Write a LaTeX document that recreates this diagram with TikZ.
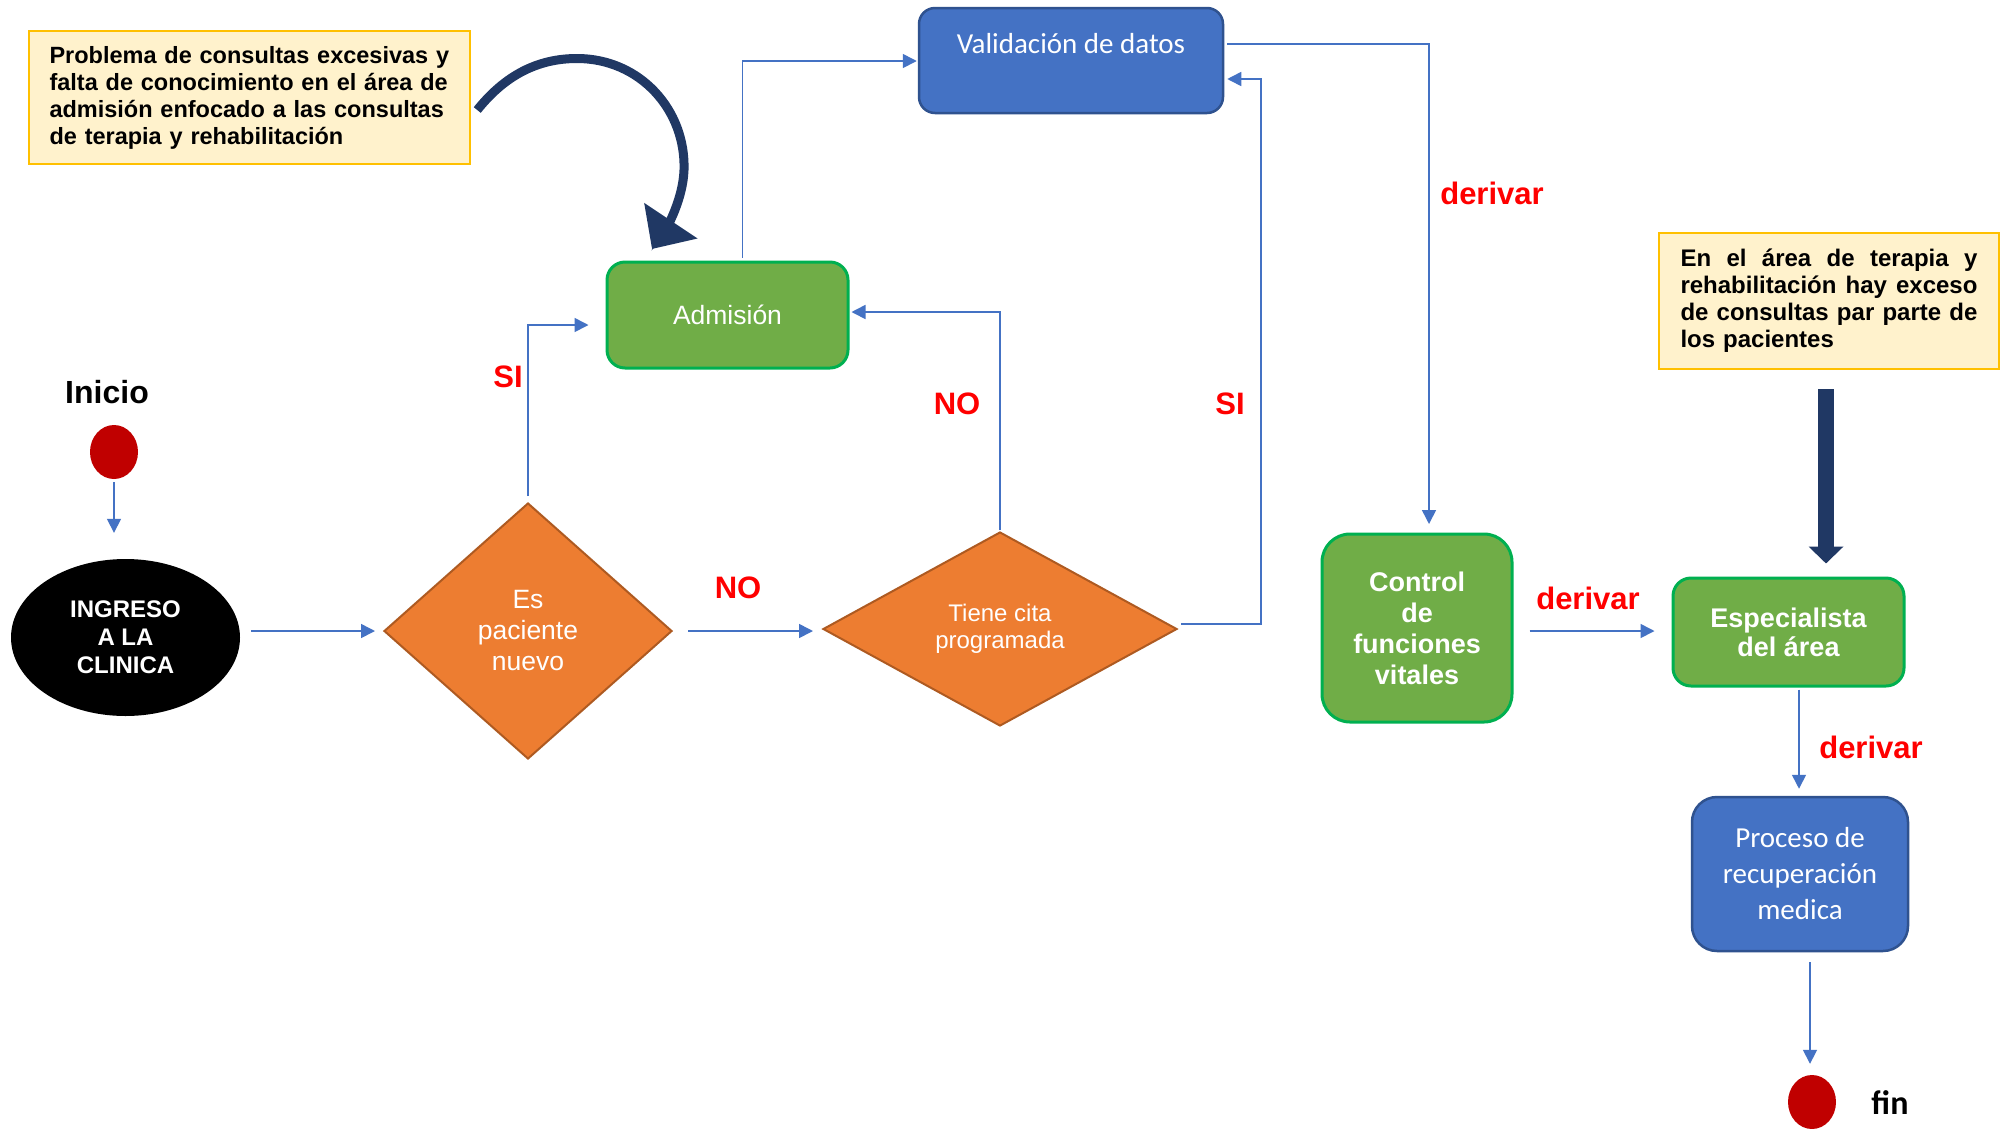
\documentclass[tikz,border=0pt]{standalone}
\usepackage{fontspec}
\setmainfont{Liberation Sans}
\newfontfamily\calibri{Carlito}
\usetikzlibrary{arrows.meta,shapes.geometric,calc}

\definecolor{cblue}{HTML}{4472C4}
\definecolor{cbluedark}{HTML}{2F528F}
\definecolor{cgreen}{HTML}{70AD47}
\definecolor{cgreenline}{HTML}{00B050}
\definecolor{corange}{HTML}{ED7D31}
\definecolor{corangeline}{HTML}{AE5A21}
\definecolor{cnavy}{HTML}{203864}
\definecolor{cdot}{HTML}{C00000}
\definecolor{cnote}{HTML}{FFF2CC}
\definecolor{cnoteline}{HTML}{FFC000}
\definecolor{clabel}{HTML}{FF0000}

\newcommand{\fsz}[2]{\fontsize{#1}{#2}\selectfont}
\newcommand{\jline}[1]{\leavevmode\hbox to 297pt{#1}}

\begin{document}
\begin{tikzpicture}[x=1pt,y=-1pt,
  conn/.style={draw=cblue, line width=1.6pt, -{Triangle[length=14pt,width=14pt]}},
  greenbox/.style={rectangle, rounded corners=18pt, fill=cgreen, draw=cgreenline, line width=3pt, text=white, align=center, inner sep=0pt},
  bluebox/.style={rectangle, rounded corners=18pt, fill=cblue, draw=cbluedark, line width=2.5pt, text=white, align=center, inner sep=0pt, font=\calibri\fsz{29}{36}},
  decision/.style={diamond, fill=corange, draw=corangeline, line width=2pt, text=white, align=center, inner sep=0pt},
  notebox/.style={rectangle, fill=cnote, draw=cnoteline, line width=2.5pt, inner sep=0pt, font=\bfseries\fsz{23.5}{27}},
  reddot/.style={ellipse, fill=cdot, minimum width=48pt, minimum height=54pt, inner sep=0pt},
  redlbl/.style={text=clabel, font=\bfseries\fsz{31}{36}, inner sep=0pt},
  bigarrow/.style={draw=cnavy, line width=16pt, -{Triangle[length=17pt,width=34pt]}},
  curvearrow/.style={draw=cnavy, line width=9pt, -{Triangle[length=34pt,width=62pt]}}
]
\fill[white] (0,0) rectangle (2006,1128);
\useasboundingbox (0,0) rectangle (2006,1128);

% notes
\node[notebox, minimum width=441pt, minimum height=133pt, text width=400pt, align=left] (prob1) at (249.5,97.5)
  {Problema de consultas excesivas y\\falta de conocimiento en el área de\\admisión enfocado a las consultas\\de terapia y rehabilitación};
\node[notebox, minimum width=340pt, minimum height=136pt, text width=297pt, align=left, font=\bfseries\fsz{24}{27}] (prob2) at (1829,301)
  {\jline{En\hfill el\hfill área\hfill de\hfill terapia\hfill y}\\\jline{rehabilitación\hfill hay\hfill exceso}\\\jline{de\hfill consultas\hfill par\hfill parte\hfill de}\\los pacientes};

% process nodes
\node[bluebox, minimum width=304pt, minimum height=105pt, rounded corners=16pt] (valid) at (1071,60.5)
  {\raisebox{7.5pt}[0pt][0pt]{Validación de datos}};
\node[greenbox, minimum width=241pt, minimum height=106pt, font=\fsz{26.5}{31}] (adm) at (727.5,315) {Admisión};

\node[font=\bfseries\fsz{32}{36}, inner sep=0pt] (inicio) at (107,392) {Inicio};
\node[reddot] (startdot) at (114,452) {};
\node[ellipse, fill=black, minimum width=229pt, minimum height=157pt, inner sep=0pt, text=white, align=center, font=\bfseries\fsz{24}{28}] (ingreso) at (125.5,637.5) {INGRESO\\A LA\\CLINICA};

\node[decision, minimum width=288pt, minimum height=256pt, font=\fsz{26.5}{31}] (d1) at (528,631) {Es\\paciente\\nuevo};
\node[decision, minimum width=354pt, minimum height=194pt, font=\fsz{24}{27}] (d2) at (1000,629) {Tiene cita\\programada};

\node[greenbox, minimum width=190pt, minimum height=188pt, rounded corners=28pt, font=\bfseries\fsz{27}{31}] (ctrl) at (1417,628) {Control\\de\\funciones\\vitales};
\node[greenbox, minimum width=231pt, minimum height=108pt, font=\bfseries\fsz{27}{29}] (esp) at (1788.5,632) {Especialista\\del área};
\node[bluebox, minimum width=216pt, minimum height=154pt, rounded corners=25pt] (proc) at (1800,874) {Proceso de\\recuperación\\medica};
\node[reddot] (enddot) at (1812,1102) {};
\node[font=\calibri\bfseries\fsz{34}{40}, inner sep=0pt] (fin) at (1890,1103) {fin};

% labels
\node[redlbl] (si1) at (508,377) {SI};
\node[redlbl] (no1) at (738,588) {NO};
\node[redlbl] (no2) at (957,404) {NO};
\node[redlbl] (si2) at (1230,404) {SI};
\node[redlbl] (der1) at (1492,193) {derivar};
\node[redlbl] (der2) at (1588,598) {derivar};
\node[redlbl] (der3) at (1871,747) {derivar};

% connectors
\draw[conn, shorten <=3pt, shorten >=26pt] (startdot.south) -- (startdot.south |- ingreso.north);
\draw[conn, shorten <=11pt, shorten >=8pt] (ingreso.east |- d1.west) -- (d1.west);
\draw[conn, shorten <=15pt, shorten >=9pt] (d1.east) -- (d1.east -| d2.west);
\draw[conn, shorten <=6pt, shorten >=17pt] (d1.north) |- ($(adm.west)+(0,10)$);
\draw[conn, shorten <=1pt, shorten >=2pt] (d2.north) |- ($(adm.east)+(0,-3)$);
\draw[conn] ($(d2.east)+(3,-5)$) -- ++(80,0) |- ($(valid.east)+(3,18.5)$);
\draw[conn] ($(adm.north)+(15,-3)$) |- ($(valid.west)+(-1,0.5)$);
\draw[conn] ($(valid.east)+(3,-16.5)$) -| ($(ctrl.north)+(12,-8.5)$);
\draw[conn] ($(ctrl.east)+(16,3)$) -- ($(esp.west)+(-17,-1)$);
\draw[conn] ($(esp.south)+(10.5,2)$) -- ($(proc.north)+(-1,-7)$);
\draw[conn] ($(proc.south)+(10,10)$) -- ($(enddot.north)+(-2,-11)$);

% thick arrows
\draw[bigarrow] ($(prob2.south)+(-3,19)$) -- ($(esp.north)+(37.5,-13)$);
\draw[curvearrow] ($(prob1.east)+(6,12.5)$) .. controls +(28,-35) and +(-39,0) .. (577,58.5)
  .. controls +(63,0) and +(2,-60) .. (684,170)
  .. controls +(-1,30) and +(14,-21) .. ($(adm.north)+(-75.5,-11.5)$);
\end{tikzpicture}
\end{document}
